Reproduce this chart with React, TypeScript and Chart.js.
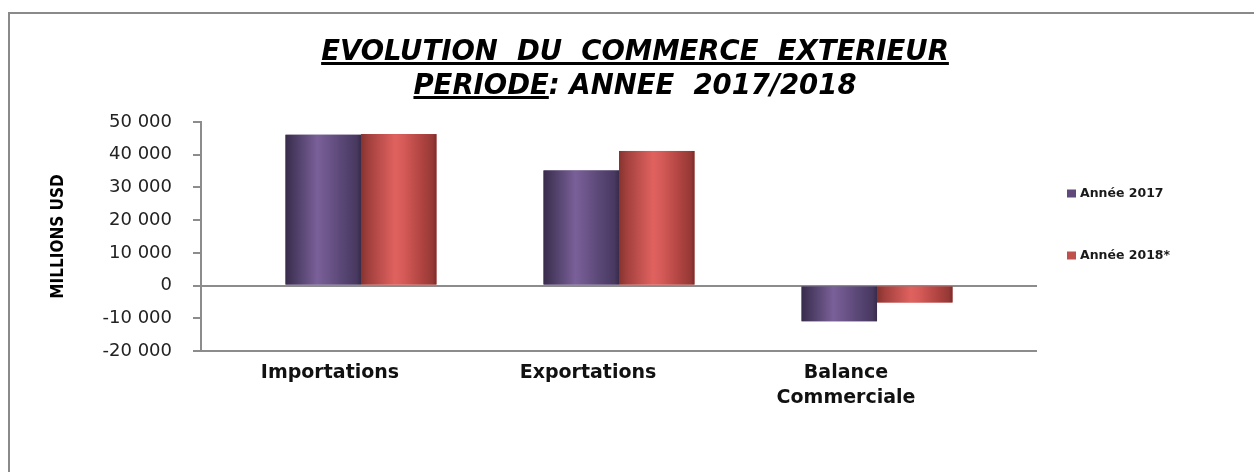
import React, { useEffect, useRef } from 'react';
import { Chart, registerables } from 'chart.js';

Chart.register(...registerables);

// ---------- data ----------
const categories: string[][] = [['Importations'], ['Exportations'], ['Balance', 'Commerciale']];
const seriesNames: string[] = ['Année 2017', 'Année 2018*'];
const values2017: number[] = [46100, 35200, -10900];
const values2018: number[] = [46300, 41150, -5150];
const yMin = -20000;
const yMax = 50000;
const yStep = 10000;
const titleLine1 = 'EVOLUTION  DU  COMMERCE  EXTERIEUR';
const titleLine2Underlined = 'PERIODE';
const titleLine2Rest = ': ANNEE  2017/2018';
const yAxisTitle = 'MILLIONS USD';

// ---------- styles ----------
const solidColors = ['#604a7b', '#c0504d'];
const gradientStops: [number, string][][] = [
  [
    [0, '#382b4b'],
    [0.12, '#4a3b62'],
    [0.42, '#7a6099'],
    [0.52, '#71598f'],
    [0.78, '#564472'],
    [0.94, '#483960'],
    [1, '#382b4b'],
  ],
  [
    [0, '#86332f'],
    [0.1, '#a2403d'],
    [0.45, '#e0625f'],
    [0.56, '#d65b58'],
    [0.8, '#b04441'],
    [0.95, '#963936'],
    [1, '#7a2d2b'],
  ],
];
const GRAY = '#8c8c8c';

function formatThousands(v: number): string {
  const n = Math.abs(v);
  const s = n >= 1000 ? Math.floor(n / 1000) + ' ' + String(n % 1000).padStart(3, '0') : String(n);
  return (v < 0 ? '-' : '') + s;
}

const cylinderPlugin = {
  id: 'cylinderBars',
  afterDatasetsDraw(chart: any) {
    const ctx = chart.ctx;
    ctx.save();
    chart.data.datasets.forEach((_ds: any, di: number) => {
      const meta = chart.getDatasetMeta(di);
      meta.data.forEach((bar: any) => {
        const { x, y, base, width } = bar.getProps(['x', 'y', 'base', 'width'], true);
        const left = x - width / 2;
        const top = Math.min(y, base);
        const h = Math.abs(base - y);
        const g = ctx.createLinearGradient(left, 0, left + width, 0);
        gradientStops[di].forEach(([o, c]) => g.addColorStop(o, c));
        ctx.fillStyle = g;
        ctx.fillRect(left, top, width, h);
      });
    });
    ctx.restore();
  },
};

const sideLegendPlugin = {
  id: 'sideLegend',
  afterDraw(chart: any) {
    const ctx = chart.ctx;
    const { right, top } = chart.chartArea;
    ctx.save();
    chart.data.datasets.forEach((ds: any, i: number) => {
      const cy = top + 71.5 + i * 62;
      ctx.fillStyle = solidColors[i];
      ctx.fillRect(right + 30, cy - 4, 9, 8);
      ctx.fillStyle = '#1a1a1a';
      ctx.font = 'bold 12.5px "DejaVu Sans"';
      ctx.textBaseline = 'middle';
      ctx.textAlign = 'left';
      ctx.fillText(ds.label, right + 43, cy + 0.5);
    });
    ctx.restore();
  },
};

export default function App() {
  const ref = useRef<HTMLCanvasElement>(null);

  useEffect(() => {
    if (!ref.current) return;
    Chart.defaults.font.family = '"DejaVu Sans", sans-serif';
    const chart = new Chart(ref.current, {
      type: 'bar',
      data: {
        datasets: [
          {
            label: seriesNames[0],
            data: values2017.map((v, i) => ({ x: i, y: v })),
            backgroundColor: solidColors[0],
          },
          {
            label: seriesNames[1],
            data: values2018.map((v, i) => ({ x: i, y: v })),
            backgroundColor: solidColors[1],
          },
        ],
      },
      options: {
        responsive: false,
        maintainAspectRatio: false,
        animation: false,
        devicePixelRatio: 1,
        datasets: { bar: { categoryPercentage: 0.585, barPercentage: 1.0 } },
        layout: { padding: { top: 108, right: 209, left: 0, bottom: 0 } },
        plugins: {
          legend: { display: false },
          tooltip: { enabled: false },
          title: { display: false },
        },
        scales: {
          x: {
            type: 'linear',
            offset: false,
            min: -0.62,
            max: 2.62,
            afterBuildTicks: (scale: any) => {
              scale.ticks = categories.map((_c, i) => ({ value: i }));
            },
            afterFit: (scale: any) => {
              scale.height = 103;
            },
            grid: { display: false, drawTicks: false, offset: false },
            border: { display: false },
            ticks: {
              autoSkip: false,
              maxRotation: 0,
              padding: 10,
              labelOffset: -31,
              color: '#111',
              font: { size: 19, weight: 'bold', lineHeight: 1.3 },
              callback: (_v: any, i: number) => categories[i],
            },
          },
          y: {
            min: yMin,
            max: yMax,
            afterFit: (scale: any) => {
              scale.width = 191;
            },
            ticks: {
              stepSize: yStep,
              padding: 21,
              color: '#222',
              font: { size: 18 },
              callback: (v: any) => formatThousands(Number(v)),
            },
            grid: {
              drawOnChartArea: true,
              color: (c: any) => (c.tick && (c.tick.value === 0 || c.tick.value === yMin) ? GRAY : 'rgba(0,0,0,0)'),
              lineWidth: 2,
              tickColor: GRAY,
              tickWidth: 2,
              tickLength: 8,
            },
            border: { display: true, color: GRAY, width: 2 },
            title: {
              display: true,
              text: yAxisTitle,
              color: '#000',
              font: { family: '"Liberation Sans Narrow", "DejaVu Sans Condensed", "DejaVu Sans"', size: 17, weight: 'bold' },
              padding: { top: 38, bottom: 0 },
            },
          },
        },
      },
      plugins: [cylinderPlugin, sideLegendPlugin],
    } as any);
    return () => chart.destroy();
  }, []);

  const underline: React.CSSProperties = {
    textDecoration: 'underline',
    textDecorationThickness: '3px',
    textUnderlineOffset: '2px',
  };

  return (
    <div
      style={{
        position: 'absolute',
        left: 8,
        top: 12,
        width: 1244,
        height: 458,
        borderTop: '2px solid #8a8a8a',
        borderLeft: '2px solid #8a8a8a',
      }}
    >
      <canvas ref={ref} width={1236} height={440} style={{ display: 'block' }} />
      <div
        style={{
          position: 'absolute',
          left: 0,
          top: 19,
          width: 1236,
          paddingLeft: 14,
          boxSizing: 'border-box',
          textAlign: 'center',
          fontFamily: '"DejaVu Sans", sans-serif',
          fontStyle: 'italic',
          fontWeight: 'bold',
          fontSize: 27.5,
          lineHeight: '34px',
          whiteSpace: 'pre',
          color: '#000',
        }}
      >
        <div style={underline}>{titleLine1}</div>
        <div>
          <span style={underline}>{titleLine2Underlined}</span>
          {titleLine2Rest}
        </div>
      </div>
    </div>
  );
}
